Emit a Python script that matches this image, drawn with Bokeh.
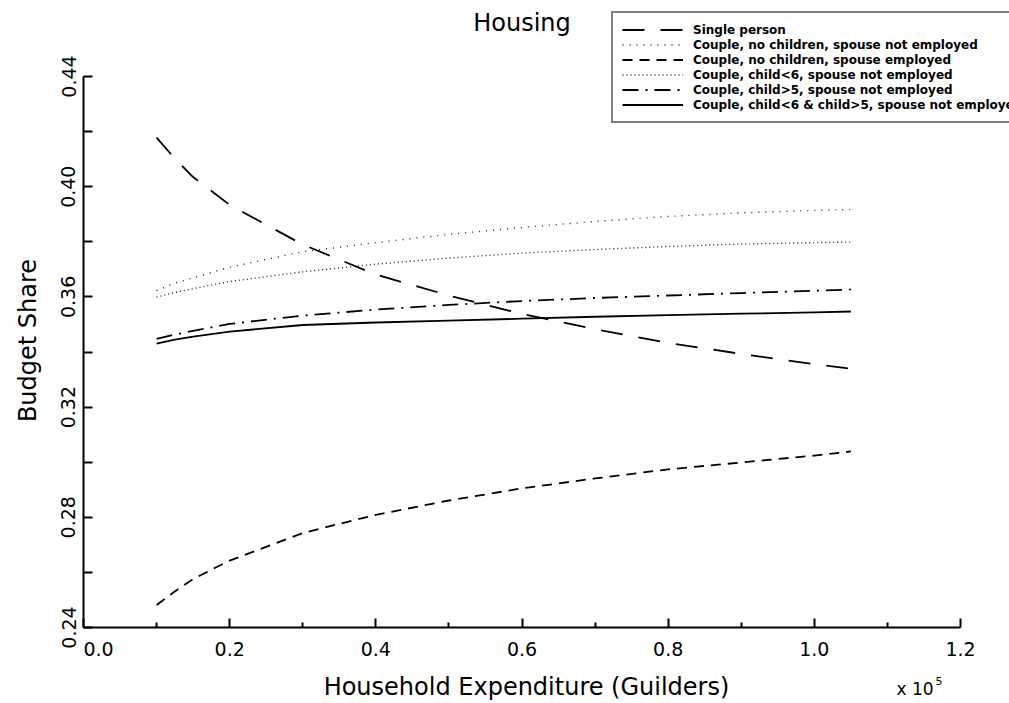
import math
from bokeh.plotting import figure
from bokeh.models import FixedTicker, Label, Range1d
from bokeh.embed import file_html
from bokeh.resources import INLINE

# ---------------- data ----------------
expenditure = [0.1, 0.125, 0.15, 0.2, 0.3, 0.4, 0.5, 0.6, 0.7, 0.8, 0.9, 1.0, 1.05]  # x 10^5 guilders

single_person = [0.4178, 0.4102, 0.4035, 0.3934, 0.3790, 0.3681, 0.3605, 0.3538, 0.3483, 0.3433, 0.3393, 0.3356, 0.3339]
couple_nochild_notemp = [0.3623, 0.3650, 0.3669, 0.3708, 0.3764, 0.3797, 0.3827, 0.3852, 0.3874, 0.3892, 0.3905, 0.3914, 0.3917]
couple_nochild_emp = [0.2482, 0.2531, 0.2576, 0.2643, 0.2743, 0.2809, 0.2861, 0.2905, 0.2941, 0.2974, 0.2999, 0.3024, 0.3039]
couple_child_lt6 = [0.3599, 0.3616, 0.3630, 0.3656, 0.3691, 0.3719, 0.3741, 0.3759, 0.3772, 0.3783, 0.3792, 0.3797, 0.3799]
couple_child_gt5 = [0.3448, 0.3463, 0.3477, 0.3502, 0.3532, 0.3554, 0.3571, 0.3585, 0.3596, 0.3605, 0.3614, 0.3622, 0.3627]
couple_child_both = [0.3430, 0.3445, 0.3456, 0.3474, 0.3498, 0.3507, 0.3514, 0.3521, 0.3528, 0.3534, 0.3539, 0.3544, 0.3547]

series_labels = [
    "Single person",
    "Couple, no children, spouse not employed",
    "Couple, no children, spouse employed",
    "Couple, child<6, spouse not employed",
    "Couple, child>5, spouse not employed",
    "Couple, child<6 & child>5, spouse not employed",
]

x_ticks = [0.0, 0.2, 0.4, 0.6, 0.8, 1.0, 1.2]
x_tick_labels = ["\u00a0\u00a0\u00a0\u00a0\u00a00.0", "0.2", "0.4", "0.6", "0.8", "1.0", "1.2"]
x_minor = [0.1, 0.3, 0.5, 0.7, 0.9, 1.1]
y_ticks = [0.24, 0.28, 0.32, 0.36, 0.40, 0.44]
y_tick_labels = ["0.24", "0.28", "0.32", "0.36", "0.40", "0.44"]
y_minor = [0.26, 0.30, 0.34, 0.38, 0.42]

FONT = "DejaVu Sans"

# ---------------- layout ----------------
W, H = 1009, 703
AX_L, AX_R = 83, 960      # pixel columns of x = 0.0 and x = 1.2
AX_T, AX_B = 76, 627      # pixel rows of y = 0.44 and y = 0.24
X0, X1 = 0.0, 1.2
Y0, Y1 = 0.24, 0.44
dx = (X1 - X0) / (AX_R - AX_L)
dy = (Y1 - Y0) / (AX_B - AX_T)
x_range = Range1d(X0 - AX_L * dx, X1 + (W - AX_R) * dx)
y_range = Range1d(Y0 - (H - AX_B) * dy, Y1 + AX_T * dy)

p = figure(width=W, height=H, output_backend="svg", toolbar_location=None,
           x_range=x_range, y_range=y_range,
           min_border_left=0, min_border_right=0, min_border_top=0, min_border_bottom=0)
p.outline_line_color = None
p.xgrid.visible = False
p.ygrid.visible = False
p.background_fill_color = "white"
p.border_fill_color = "white"

styles = [
    dict(line_dash="22 16", line_width=1.8, line_color="black"),
    dict(line_dash="1 6", line_width=1.4, line_color="#222222"),
    dict(line_dash="10 7", line_width=1.8, line_color="black"),
    dict(line_dash="1 3", line_width=1.4, line_color="#222222"),
    dict(line_dash="16 7 2 7", line_width=1.8, line_color="black"),
    dict(line_width=1.8, line_color="black"),
]
all_series = [single_person, couple_nochild_notemp, couple_nochild_emp,
              couple_child_lt6, couple_child_gt5, couple_child_both]
for ys, lab, st in zip(all_series, series_labels, styles):
    p.line(expenditure, ys, legend_label=lab, **st)

# axes
for ax in (p.xaxis[0], p.yaxis[0]):
    ax.axis_line_width = 2
    ax.axis_line_color = "black"
    ax.major_tick_line_width = 2
    ax.minor_tick_line_width = 2
    ax.major_tick_out = 0
    ax.minor_tick_out = 0
    ax.major_tick_in = 9
    ax.major_label_text_font = FONT
    ax.major_label_text_font_size = "19px"
    ax.major_label_text_color = "black"

p.xaxis.ticker = FixedTicker(ticks=x_ticks, minor_ticks=x_minor)
p.xaxis.major_label_overrides = {t: s for t, s in zip(x_ticks, x_tick_labels)}
p.xaxis.minor_tick_in = 5
p.xaxis.major_label_standoff = 10
p.xaxis.bounds = (X0, X1)
p.xaxis.fixed_location = Y0

p.yaxis.ticker = FixedTicker(ticks=y_ticks, minor_ticks=y_minor)
p.yaxis.major_label_overrides = {t: s for t, s in zip(y_ticks, y_tick_labels)}
p.yaxis.minor_tick_in = 9
p.yaxis.major_label_orientation = "vertical"
p.yaxis.major_label_standoff = 8
p.yaxis.bounds = (Y0, Y1)
p.yaxis.fixed_location = X0

# legend
leg = p.legend[0]
leg.location = (611, H - 123)
leg.border_line_color = "black"
leg.border_line_width = 2
leg.background_fill_alpha = 1.0
leg.label_text_font = FONT
leg.label_text_font_size = "12px"
leg.label_text_font_style = "bold"
leg.label_text_color = "black"
leg.glyph_width = 61
leg.glyph_height = 15
leg.label_height = 15
leg.spacing = 0
leg.padding = 9
leg.label_standoff = 10
leg.margin = 0

# title, axis titles and exponent as labels (screen px from bottom-left)
def add_text(x, y, text, size, angle=0.0, align="center"):
    p.add_layout(Label(x=x, y=y, x_units="screen", y_units="screen", text=text,
                       angle=angle, text_align=align, text_baseline="middle",
                       text_font=FONT, text_font_size=size, text_color="black"))

add_text(521.5, H - 22, "Housing", "24px")
add_text(526, H - 686, "Household Expenditure (Guilders)", "24px")
add_text(27, H - 340, "Budget Share", "24px", angle=math.pi / 2)
add_text(896, H - 688, "x 10", "17px", align="left")
add_text(935, H - 680, "5", "11px", align="left")

open("out.html", "w").write(file_html(p, INLINE))
